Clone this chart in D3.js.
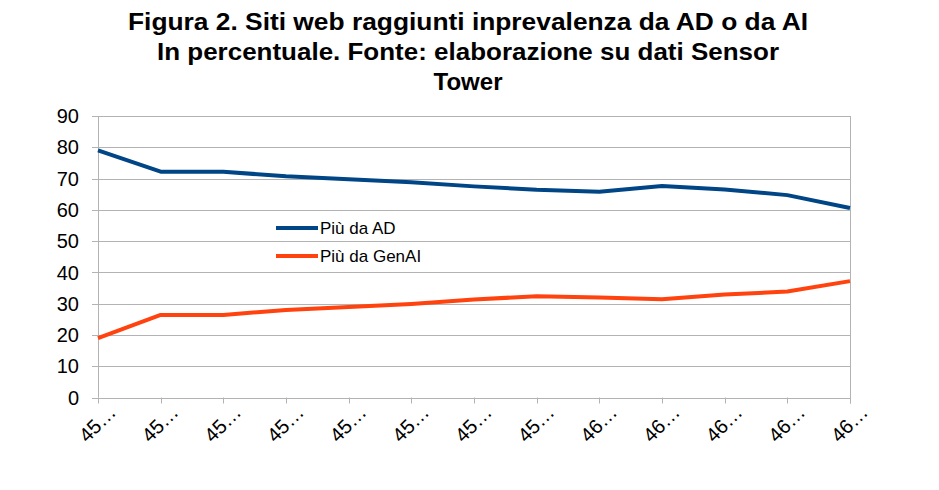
<!DOCTYPE html>
<html><head><meta charset="utf-8">
<script src="https://cdn.jsdelivr.net/npm/d3@7"></script>
<style>body{margin:0;background:#fff}svg{display:block}text{font-family:"Liberation Sans",Arial,sans-serif}</style>
</head><body><svg id="c" width="939" height="490"></svg>
<script>
const categories = ["45…","45…","45…","45…","45…","45…","45…","45…","46…","46…","46…","46…","46…"];
const seriesAD = [79.0, 72.2, 72.2, 70.7, 69.8, 68.8, 67.5, 66.4, 65.8, 67.6, 66.5, 64.7, 60.6];
const seriesGenAI = [19.0, 26.4, 26.4, 28.0, 28.9, 29.9, 31.3, 32.4, 32.0, 31.4, 32.9, 33.9, 37.2];
const seriesNames = ["Più da AD", "Più da GenAI"];
const yTicks = [0,10,20,30,40,50,60,70,80,90];
const titleLines = ["Figura 2. Siti web raggiunti inprevalenza da AD o da AI","In percentuale. Fonte: elaborazione su dati Sensor","Tower"];

const svg = d3.select("#c");
const L = 98, R = 850, T = 116, B = 397.5;
const x = d3.scalePoint().domain(d3.range(categories.length)).range([L, R]);
const y = d3.scaleLinear().domain([0, 90]).range([B, T]);

// title
const tw = [680, 622, 69];
svg.selectAll("text.title").data(titleLines).join("text")
  .attr("x", 468).attr("y", (d,i) => 30 + i*30)
  .attr("text-anchor", "middle").attr("font-size", 24.5).attr("font-weight", "bold")
  .attr("textLength", (d,i) => tw[i]).attr("lengthAdjust", "spacingAndGlyphs")
  .text(d => d);

// gridlines
svg.append("g").selectAll("line").data(yTicks).join("line")
  .attr("x1", L - 6).attr("x2", R).attr("y1", d => Math.round(y(d)) + 0.5).attr("y2", d => Math.round(y(d)) + 0.5)
  .attr("stroke", "#b3b3b3").attr("stroke-width", 1);
// axis lines
svg.append("line").attr("x1", L+0.5).attr("x2", L+0.5).attr("y1", y(90)).attr("y2", B).attr("stroke", "#b3b3b3");
svg.append("line").attr("x1", R+0.5).attr("x2", R+0.5).attr("y1", y(90)).attr("y2", B + 6).attr("stroke", "#b3b3b3");
// x ticks
svg.append("g").selectAll("line").data(d3.range(categories.length)).join("line")
  .attr("x1", d => Math.round(x(d)) + 0.5).attr("x2", d => Math.round(x(d)) + 0.5)
  .attr("y1", B).attr("y2", B + 6).attr("stroke", "#b3b3b3");

// y labels
svg.append("g").selectAll("text").data(yTicks).join("text")
  .attr("x", 79).attr("y", d => y(d)).attr("dy", "0.36em").attr("text-anchor", "end")
  .attr("font-size", 20).attr("fill", "#000").text(d => d);

// x labels
svg.append("g").selectAll("text").data(categories).join("text")
  .attr("transform", (d,i) => `translate(${x(i) + 14},${B + 11}) rotate(-45)`)
  .attr("text-anchor", "end").attr("dy", "0.36em").attr("font-size", 20).text(d => d);

// lines
const line = d3.line().x((d,i) => x(i)).y(d => y(d));
const colors = ["#004586", "#ff420e"];
[seriesAD, seriesGenAI].forEach((s, k) => {
  svg.append("path").datum(s).attr("d", line).attr("fill", "none")
    .attr("stroke", colors[k]).attr("stroke-width", 4).attr("stroke-linejoin", "round");
});

// legend
seriesNames.forEach((n, k) => {
  const ly = 228 + k*28;
  svg.append("line").attr("x1", 276).attr("x2", 318).attr("y1", ly).attr("y2", ly)
    .attr("stroke", colors[k]).attr("stroke-width", 4);
  svg.append("text").attr("x", 320).attr("y", ly).attr("dy", "0.36em")
    .attr("font-size", 17).text(n);
});
</script></body></html>
